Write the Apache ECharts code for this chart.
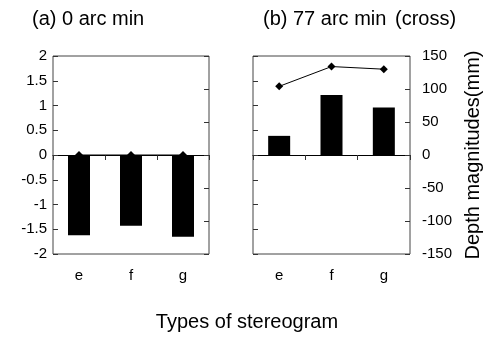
<!DOCTYPE html>
<html>
<head>
<meta charset="utf-8">
<script src="https://cdn.jsdelivr.net/npm/echarts@6/dist/echarts.min.js"></script>
<style>
html,body{margin:0;padding:0;background:#fff;}
#c{width:485px;height:337px;}
</style>
</head>
<body>
<div id="c"></div>
<script>
const categories = ['e', 'f', 'g'];
const leftTicks = [-2, 2, 0.5];      // min, max, interval (left scale)
const rightTicks = [-150, 150, 50];  // min, max, interval (right scale)
const barsA = [-1.62, -1.43, -1.65];
const lineA = [0, 0, 0];
const barsB = [29, 91, 72];
const lineB = [104, 134, 130];

const FONT = 'Liberation Sans, Arial, sans-serif';
const chart = echarts.init(document.getElementById('c'), null, {renderer: 'canvas'});

function yAx(grid, pos, t, showLabel, margin) {
  return {
    type: 'value', gridIndex: grid, position: pos,
    min: t[0], max: t[1], interval: t[2],
    axisLine: {show: false},
    axisTick: {show: true, inside: true, length: 5, lineStyle: {color: '#333'}},
    splitLine: {show: false},
    axisLabel: {show: showLabel, fontSize: 15, color: '#000', fontFamily: FONT, margin: margin}
  };
}
function xLab(grid) {
  return {
    type: 'category', gridIndex: grid, data: categories, position: 'bottom',
    axisLine: {show: false, onZero: false}, axisTick: {show: false},
    axisLabel: {fontSize: 15, color: '#000', fontFamily: FONT, margin: 14}
  };
}
function xZero(grid) {
  return {
    type: 'category', gridIndex: grid, data: categories,
    axisLine: {show: true, onZero: true, lineStyle: {color: '#000', width: 1}},
    axisTick: {show: true, inside: true, length: 5, lineStyle: {color: '#333'}},
    axisLabel: {show: false}
  };
}
function txt(x, s) {
  return {type: 'text', left: x, top: 9, style: {text: s, fontSize: 20, fontFamily: FONT, fill: '#000'}};
}

chart.setOption({
  animation: false,
  backgroundColor: '#fff',
  grid: [
    {left: 53, top: 56, width: 156, height: 198, show: true, borderColor: '#444', borderWidth: 1, backgroundColor: 'transparent'},
    {left: 253, top: 56, width: 157, height: 198, show: true, borderColor: '#444', borderWidth: 1, backgroundColor: 'transparent'}
  ],
  xAxis: [xLab(0), xZero(0), xLab(1), xZero(1)],
  yAxis: [
    yAx(0, 'left', leftTicks, true, 6),
    yAx(0, 'right', rightTicks, false, 6),
    yAx(1, 'left', leftTicks, false, 6),
    yAx(1, 'right', rightTicks, true, 12)
  ],
  series: [
    {type: 'bar', xAxisIndex: 0, yAxisIndex: 0, data: barsA, barWidth: 22, itemStyle: {color: '#000'}},
    {type: 'line', xAxisIndex: 0, yAxisIndex: 0, data: lineA, symbol: 'diamond', symbolSize: 8,
     lineStyle: {color: '#000', width: 1}, itemStyle: {color: '#000'}},
    {type: 'bar', xAxisIndex: 2, yAxisIndex: 3, data: barsB, barWidth: 22, itemStyle: {color: '#000'}},
    {type: 'line', xAxisIndex: 2, yAxisIndex: 3, data: lineB, symbol: 'diamond', symbolSize: 8,
     lineStyle: {color: '#000', width: 1}, itemStyle: {color: '#000'}}
  ],
  graphic: [
    txt(32, '(a)'), txt(62, '0 arc min'),
    txt(263, '(b)'), txt(293, '77 arc min'), txt(395, '(cross)'),
    {type: 'text', x: 473, y: 155, rotation: Math.PI / 2,
     style: {text: 'Depth magnitudes(mm)', fontSize: 20, fontFamily: FONT, fill: '#000', align: 'center', verticalAlign: 'middle'}},
    {type: 'text', x: 247, y: 322,
     style: {text: 'Types of stereogram', fontSize: 20, fontFamily: FONT, fill: '#000', align: 'center', verticalAlign: 'middle'}}
  ]
});
</script>
</body>
</html>
